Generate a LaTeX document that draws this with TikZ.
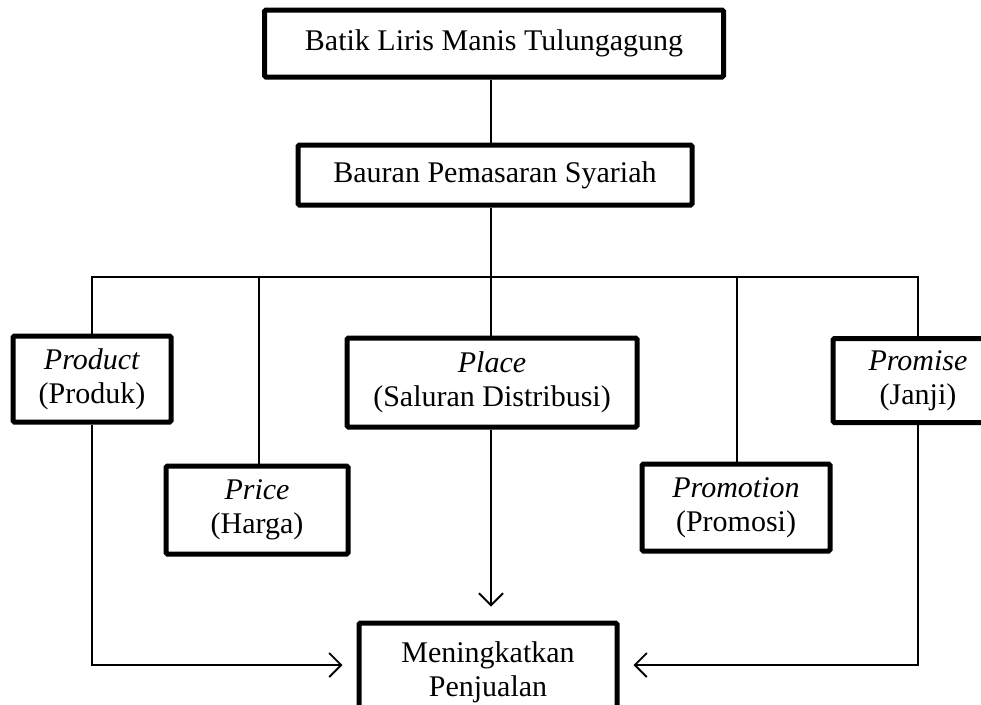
\documentclass[tikz,border=0pt]{standalone}
\usepackage{fontspec}
\setmainfont{Liberation Serif}
\usepackage{tikz}
\usetikzlibrary{
    positioning,
    calc,
    arrows.meta
}
\tikzset{
  basic/.style = {
      draw,
      line width=5pt,
      rounded corners=1.5pt,
      rectangle,
      align=center,
      inner sep=0pt,
      font=\fontsize{30}{34}\selectfont
  },
  mixbox/.style = {
      basic
  },
  link/.style = {
      line width=1.5pt
  },
  arrow/.style = {
      link,
      -{Straight Barb[length=12pt,width=24pt,line width=1.8pt]},
      shorten >=14pt
  }
}

\begin{document}
\begin{tikzpicture}[x=1pt, y=-1pt]
    \useasboundingbox (0,0) rectangle (981,704);
    % Nodes
    \node[basic, minimum width=459, minimum height=67] (batik) at (494,43.5) {Batik Liris Manis Tulungagung};
    \node[mixbox, minimum width=394, minimum height=60] (bauran) at (495,175) {Bauran Pemasaran Syariah};
    \node[basic, minimum width=158, minimum height=86] (product) at (92,379) {\textit{Product}\\(Produk)};
    \node[basic, minimum width=182, minimum height=88] (price) at (257,510) {\textit{Price}\\(Harga)};
    \node[basic, minimum width=290, minimum height=89] (place) at (492,382.5) {\textit{Place}\\(Saluran Distribusi)};
    \node[basic, minimum width=188, minimum height=87] (promotion) at (736,507.5) {\textit{Promotion}\\(Promosi)};
    \node[basic, minimum width=170, minimum height=84] (promise) at (918,380.5) {\textit{Promise}\\(Janji)};
    \node[basic, minimum width=258, minimum height=98] (sales) at (488,672) {Meningkatkan\\Penjualan};
    \coordinate (bus) at (491,277);
    % Edges
    \path[draw, link]
    (batik.south -| bus) -- (bauran.north -| bus)
    (bauran.south -| bus) -- (bus)
    (product.north) -- (product.north |- bus) -- (promise.north |- bus) -- (promise.north)
    (price.north -| 259,0) -- (bus -| 259,0)
    (promotion.north -| 737,0) -- (bus -| 737,0)
    (bus) -- (place.north -| bus);
    \draw[arrow] (place.south -| bus) -- (sales.north -| bus);
    \draw[arrow] (product.south) |- ([yshift=7pt]sales.west);
    \draw[arrow] (promise.south) |- ([yshift=7pt]sales.east);
\end{tikzpicture}
\end{document}
